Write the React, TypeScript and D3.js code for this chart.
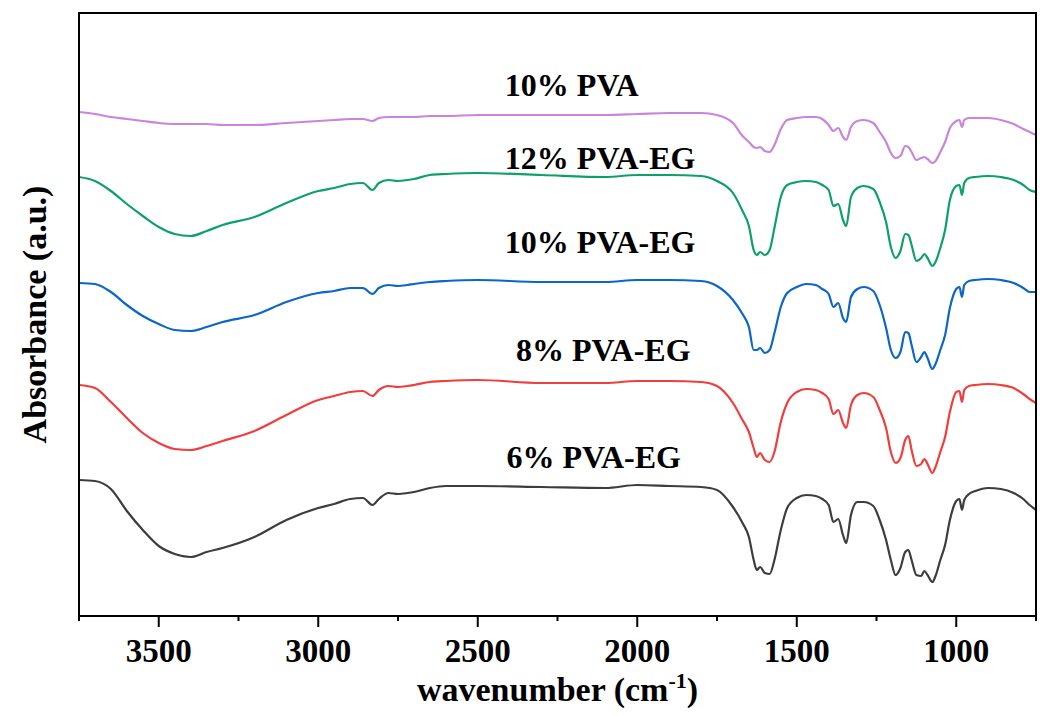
import React from "react";
import * as d3 from "d3";

// Wavenumber grid (cm^-1)
const wavenumbers = [
  3750, 3700, 3650, 3600, 3550, 3500, 3450, 3400, 3350, 3300,
  3200, 3100, 3000, 2950, 2900, 2860, 2830, 2810, 2780, 2750,
  2720, 2700, 2650, 2600, 2500, 2300, 2100, 2000, 1900, 1800,
  1750, 1700, 1670, 1650, 1635, 1625, 1615, 1600, 1585, 1570,
  1550, 1530, 1500, 1470, 1440, 1420, 1400, 1385, 1370, 1355,
  1345, 1330, 1310, 1290, 1260, 1240, 1220, 1205, 1190, 1175,
  1160, 1150, 1140, 1125, 1110, 1100, 1090, 1075, 1065, 1050,
  1035, 1020, 1000, 990, 982, 975, 960, 940, 900, 860,
  820, 790, 770, 750,
];

// Absorbance (a.u., stacked offsets)
const pva10 = [
  504, 502, 499, 497, 495, 493, 492, 492, 492, 491,
  491, 493, 495, 496, 497, 497, 495, 498, 499, 499,
  499, 499, 500, 500, 501, 501, 501, 502, 503, 503,
  501, 493, 480, 474, 469, 468, 469, 465, 464, 471,
  487, 496, 498, 499, 499, 497, 491, 485, 488, 479,
  476, 489, 495, 496, 493, 484, 474, 463, 458, 460,
  470, 469, 464, 456, 458, 459, 457, 453, 455, 464,
  474, 488, 495, 496, 489, 496, 498, 498, 498, 496,
  492, 487, 484, 481,
];
const pvaEg12 = [
  439, 435, 425, 412, 400, 389, 382, 380, 385, 391,
  399, 413, 425, 428, 432, 433, 426, 433, 436, 435,
  436, 437, 441, 442, 443, 441, 439, 441, 441, 440,
  435, 423, 405, 390, 366, 361, 364, 361, 366, 388,
  419, 431, 434, 435, 434, 431, 426, 410, 412, 396,
  390, 419, 428, 430, 427, 414, 394, 369, 358, 365,
  382, 381, 371, 355, 358, 362, 358, 350, 354, 368,
  386, 416, 430, 431, 421, 433, 438, 439, 440, 439,
  436, 431, 426, 424,
];
const pvaEg10 = [
  333, 332, 324, 311, 300, 292, 286, 285, 289, 294,
  301, 314, 323, 325, 328, 328, 322, 328, 331, 330,
  331, 332, 334, 335, 336, 334, 334, 336, 336, 335,
  330, 316, 302, 289, 266, 266, 268, 263, 266, 283,
  309, 323, 329, 332, 331, 327, 322, 309, 313, 298,
  294, 319, 327, 329, 325, 311, 288, 266, 258, 264,
  284, 283, 271, 254, 259, 264, 258, 247, 252, 266,
  281, 308, 327, 329, 319, 331, 335, 336, 337, 336,
  333, 328, 324, 324,
];
const pvaEg8 = [
  231, 228, 214, 198, 183, 173, 167, 166, 170, 175,
  185, 201, 216, 220, 224, 225, 220, 226, 230, 229,
  230, 231, 234, 235, 236, 233, 233, 235, 235, 234,
  230, 213, 196, 184, 168, 159, 163, 156, 154, 164,
  194, 213, 224, 227, 226, 223, 217, 202, 206, 193,
  188, 211, 221, 223, 219, 206, 188, 164, 153, 158,
  176, 180, 166, 150, 152, 157, 152, 143, 149, 164,
  179, 204, 224, 225, 214, 226, 230, 231, 232, 231,
  228, 222, 217, 213,
];
const pvaEg6 = [
  136, 135, 127, 105, 86, 70, 62, 59, 64, 68,
  79, 96, 108, 112, 117, 118, 111, 117, 123, 122,
  123, 124, 128, 130, 130, 129, 128, 131, 130, 129,
  126, 109, 93, 79, 56, 46, 49, 43, 42, 56,
  86, 108, 118, 121, 120, 117, 111, 94, 97, 81,
  73, 101, 114, 114, 110, 96, 76, 56, 41, 48,
  64, 66, 56, 41, 40, 45, 41, 34, 40, 56,
  71, 96, 115, 117, 106, 116, 122, 125, 128, 127,
  123, 117, 111, 106,
];

const seriesNames = ["10% PVA", "12% PVA-EG", "10% PVA-EG", "8% PVA-EG", "6% PVA-EG"];
const seriesValues = [pva10, pvaEg12, pvaEg10, pvaEg8, pvaEg6];
const seriesColors = ["#c985dc", "#0ea06a", "#0a66c8", "#f23d3d", "#3d3d3d"];

const xTicks = [3500, 3000, 2500, 2000, 1500, 1000];
const xMinorTicks = [3750, 3250, 2750, 2250, 1750, 1250, 750];

const W = 1040;
const H = 715;
const M = { left: 79, right: 4, top: 13, bottom: 99 };
const FONT = "'Liberation Serif', 'Times New Roman', serif";

export default function App() {
  const x = d3.scaleLinear().domain([3750, 750]).range([M.left, W - M.right]);
  const y = d3.scaleLinear().domain([0, 603]).range([H - M.bottom, M.top]);
  const line = d3
    .line<number>()
    .x((_, i) => x(wavenumbers[i]))
    .y((d) => y(d))
    .curve(d3.curveMonotoneX);

  const labelX = [2415, 2415, 2415, 2380, 2410];
  const labelY = [520, 447, 363, 255, 148];

  const bottom = H - M.bottom;
  return (
    <svg
      width={W}
      height={H}
      style={{ position: "absolute", left: 0, top: 0, background: "#fff" }}
      fontFamily={FONT}
    >
      <rect x={0} y={0} width={W} height={H} fill="#fff" />
      {seriesValues.map((vals, i) => (
        <path
          key={seriesNames[i]}
          d={line(vals) || ""}
          fill="none"
          stroke={seriesColors[i]}
          strokeWidth={2.2}
          strokeLinejoin="round"
        />
      ))}
      {seriesNames.map((n, i) => (
        <text
          key={n}
          x={x(labelX[i])}
          y={y(labelY[i])}
          fontSize={32}
          fontWeight="bold"
          fill="#000"
        >
          {n}
        </text>
      ))}
      <rect
        x={M.left}
        y={M.top}
        width={W - M.right - M.left}
        height={bottom - M.top}
        fill="none"
        stroke="#000"
        strokeWidth={2}
      />
      {xTicks.map((t) => (
        <g key={t}>
          <line x1={x(t)} x2={x(t)} y1={bottom} y2={bottom + 11} stroke="#000" strokeWidth={2} />
          <text
            x={x(t)}
            y={bottom + 46}
            textAnchor="middle"
            fontSize={33}
            fontWeight="bold"
            fill="#000"
          >
            {t}
          </text>
        </g>
      ))}
      {xMinorTicks.map((t) => (
        <line key={t} x1={x(t)} x2={x(t)} y1={bottom} y2={bottom + 5} stroke="#000" strokeWidth={2} />
      ))}
      <text
        x={(M.left + W - M.right) / 2}
        y={H - 14}
        textAnchor="middle"
        fontSize={34}
        fontWeight="bold"
        fill="#000"
      >
        wavenumber (cm
        <tspan dy={-13} fontSize={22}>-1</tspan>
        <tspan dy={13}>)</tspan>
      </text>
      <text
        transform={`translate(46, ${(M.top + bottom) / 2}) rotate(-90)`}
        textAnchor="middle"
        fontSize={34}
        fontWeight="bold"
        fill="#000"
      >
        Absorbance (a.u.)
      </text>
    </svg>
  );
}
